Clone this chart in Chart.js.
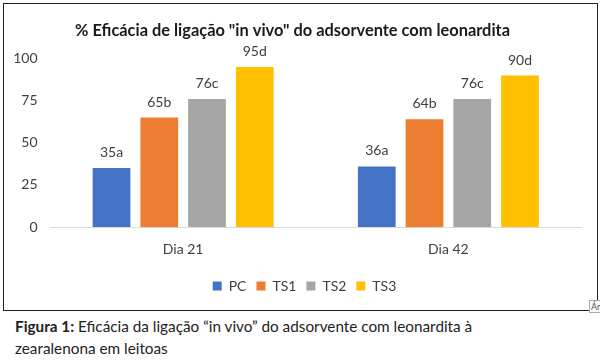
<!DOCTYPE html>
<html>
<head>
<meta charset="utf-8">
<script src="https://cdn.jsdelivr.net/npm/chart.js@4"></script>
<style>
  body { margin: 0; background: #fff; width: 600px; height: 361px; position: relative; overflow: hidden; font-family: Lato, "Open Sans", sans-serif; }
  #box { position: absolute; left: 3px; top: 3px; width: 593px; height: 306px; border: 1.5px solid #222; }
  #caption { position: absolute; left: 15px; top: 315px; font-size: 15.3px; line-height: 22px; color: #222; }
  #tip { position: absolute; left: 589px; top: 300px; font-size: 9px; color: #555; border: 1px solid #aaa; background: #fafafa; padding: 0 1px; }
</style>
</head>
<body>
<div id="box"><canvas id="chart" width="593" height="306"></canvas></div>
<div id="tip">Ár</div>
<div id="caption"><b>Figura 1:</b> Eficácia da ligação “in vivo” do adsorvente com leonardita à<br>zearalenona em leitoas</div>
<script>
// dados do gráfico
const categories = ["Dia 21", "Dia 42"];
const seriesNames = ["PC", "TS1", "TS2", "TS3"];
const pc = [35, 36];
const ts1 = [65, 64];
const ts2 = [76, 76];
const ts3 = [95, 90];
const labelsPC = ["35a", "36a"];
const labelsTS1 = ["65b", "64b"];
const labelsTS2 = ["76c", "76c"];
const labelsTS3 = ["95d", "90d"];
const yTicks = [0, 25, 50, 75, 100];

const colors = ["#4472c4", "#ed7d31", "#a5a5a5", "#ffc000"];
const allValues = [pc, ts1, ts2, ts3];
const allLabels = [labelsPC, labelsTS1, labelsTS2, labelsTS3];
const fontName = "Lato, 'Open Sans', sans-serif";

// rótulos acima das barras
const barLabels = {
  id: "barLabels",
  afterDatasetsDraw(chart) {
    const ctx = chart.ctx;
    ctx.save();
    ctx.font = "14px " + fontName;
    ctx.fillStyle = "#404040";
    ctx.textAlign = "center";
    ctx.textBaseline = "alphabetic";
    chart.data.datasets.forEach(function (ds, i) {
      chart.getDatasetMeta(i).data.forEach(function (bar, j) {
        ctx.fillText(allLabels[i][j], bar.x, bar.y - 11);
      });
    });
    ctx.restore();
  }
};

// empurra a legenda um pouco para a direita, como no original
const legendShift = {
  id: "legendShift",
  afterLayout(chart) {
    chart.legend.left += 12;
    chart.legend.right += 12;
  }
};

const ctx = document.getElementById("chart").getContext("2d");
new Chart(ctx, {
  type: "bar",
  data: {
    labels: categories,
    datasets: seriesNames.map(function (name, i) {
      return {
        label: name,
        data: allValues[i],
        backgroundColor: colors[i],
        barPercentage: 0.79,
        categoryPercentage: 0.72
      };
    })
  },
  options: {
    responsive: false,
    animation: false,
    layout: { padding: { top: 0, right: 16, bottom: 7, left: 0 } },
    plugins: {
      title: {
        display: true,
        text: '% Eficácia de ligação "in vivo" do adsorvente com leonardita',
        color: "#1a1a1a",
        font: { family: fontName, size: 16.4, weight: "bold" },
        padding: { top: 17, bottom: 18 }
      },
      legend: {
        position: "bottom",
        labels: {
          boxWidth: 9,
          boxHeight: 9,
          padding: 10,
          color: "#404040",
          font: { family: fontName, size: 14 }
        }
      },
      tooltip: { enabled: false }
    },
    scales: {
      x: {
        afterFit(axis) { axis.height = 42; },
        grid: { display: false, drawTicks: false },
        border: { color: "#d9d9d9", width: 1 },
        ticks: {
          color: "#404040",
          padding: 14,
          font: { family: fontName, size: 14 }
        }
      },
      y: {
        min: 0,
        max: 100,
        afterBuildTicks(axis) {
          axis.ticks = yTicks.map(function (v) { return { value: v }; });
        },
        afterFit(axis) { axis.width = 46.5; },
        grid: { display: false, drawTicks: false },
        border: { display: false },
        ticks: {
          color: "#404040",
          padding: 13,
          font: { family: fontName, size: 14 }
        }
      }
    }
  },
  plugins: [barLabels, legendShift]
});
</script>
</body>
</html>
